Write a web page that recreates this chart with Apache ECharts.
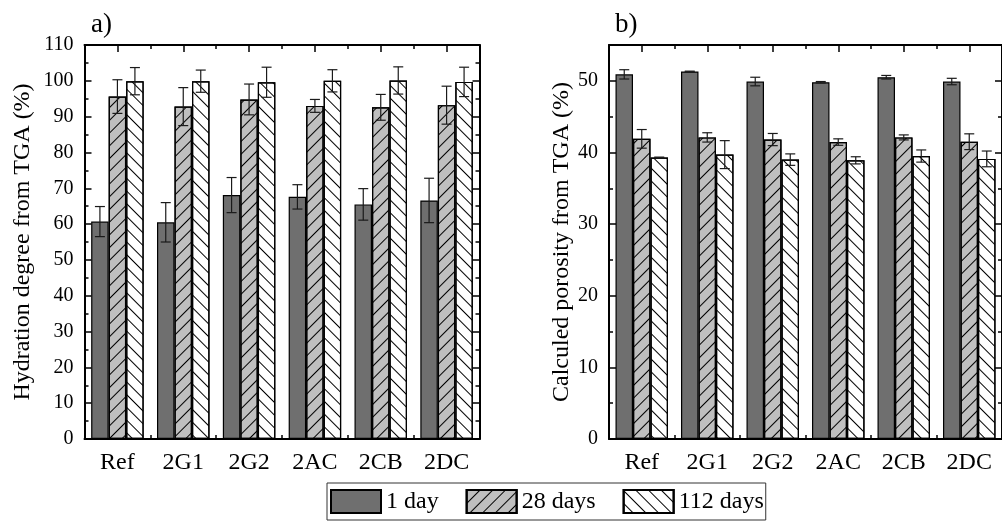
<!DOCTYPE html>
<html>
<head>
<meta charset="utf-8">
<script src="https://cdn.jsdelivr.net/npm/echarts@6/dist/echarts.min.js"></script>
<style>
  html, body { margin: 0; padding: 0; background: #fff; }
  #chart { width: 1002px; height: 522px; }
</style>
</head>
<body>
<div id="chart"></div>
<script>
const categories = ['Ref', '2G1', '2G2', '2AC', '2CB', '2DC'];
const seriesNames = ['1 day', '28 days', '112 days'];

// a) hydration degree (%)
const hyd1 = [60.7, 60.5, 68.1, 67.6, 65.5, 66.6];
const hyd28 = [95.6, 92.8, 94.8, 93.0, 92.6, 93.2];
const hyd112 = [99.9, 99.9, 99.6, 100.0, 100.1, 99.7];
const hydErr1 = [4.2, 5.5, 4.9, 3.4, 4.4, 6.2];
const hydErr28 = [4.7, 5.3, 4.3, 1.8, 3.6, 5.3];
const hydErr112 = [3.8, 3.1, 4.2, 3.1, 3.8, 4.1];

// b) calculated porosity (%)
const por1 = [50.9, 51.3, 49.9, 49.8, 50.5, 49.9];
const por28 = [41.9, 42.1, 41.8, 41.45, 42.1, 41.5];
const por112 = [39.3, 39.7, 39.0, 38.9, 39.5, 39.1];
const porErr1 = [0.65, 0.05, 0.6, 0.1, 0.25, 0.45];
const porErr28 = [1.3, 0.65, 0.85, 0.45, 0.35, 1.1];
const porErr112 = [0.05, 1.95, 0.8, 0.5, 0.85, 1.1];

const FONT = 'Liberation Serif';
const BAR_W = 17.5;

const fills = ['#6f6f6f', '#bfbfbf', '#ffffff'];
const decals = [
    null,
    { symbol: 'rect', symbolSize: 1, color: '#000', dashArrayX: [1, 0], dashArrayY: [1, 8], rotation: -Math.PI / 4 },
    { symbol: 'rect', symbolSize: 1, color: '#000', dashArrayX: [1, 0], dashArrayY: [1, 8], rotation: Math.PI / 4 },
];

function frameAxesX(gridIndex) {
    const base = {
        type: 'category', data: categories, gridIndex,
        axisLabel: { show: false },
        axisLine: { show: true, onZero: false, lineStyle: { color: '#000', width: 2 } },
    };
    return [
        {
            ...base, position: 'bottom',
            axisLabel: { show: true, margin: 12, fontSize: 24, fontFamily: FONT, color: '#000' },
            axisTick: { show: true, inside: true, alignWithLabel: true, length: 8, lineStyle: { color: '#000', width: 1.5 } },
        },
        {
            ...base, position: 'bottom', axisLine: { show: false, onZero: false },
            axisTick: { show: true, inside: true, length: 4, lineStyle: { color: '#000', width: 1.5 } },
        },
        {
            ...base, position: 'top',
            axisTick: { show: true, inside: true, alignWithLabel: true, length: 7, lineStyle: { color: '#000', width: 1.5 } },
        },
        {
            ...base, position: 'top', axisLine: { show: false, onZero: false },
            axisTick: { show: true, inside: true, length: 4, lineStyle: { color: '#000', width: 1.5 } },
        },
    ];
}

function frameAxesY(gridIndex, max, name, nameGap, showMax) {
    const base = {
        type: 'value', gridIndex, min: 0, max, interval: 10,
        splitLine: { show: false },
        axisLine: { show: true, onZero: false, lineStyle: { color: '#000', width: 2 } },
        axisTick: { show: true, inside: true, length: 7, lineStyle: { color: '#000', width: 1.5 } },
        minorTick: { show: true, splitNumber: 2, length: 4, lineStyle: { color: '#000', width: 1.5 } },
    };
    return [
        {
            ...base, position: 'left', name, nameLocation: 'middle', nameGap,
            nameTextStyle: { fontSize: 24, fontFamily: FONT, color: '#000' },
            axisLabel: { show: true, showMaxLabel: showMax, margin: 11, fontSize: 20, fontFamily: FONT, color: '#000' },
        },
        { ...base, position: 'right', axisLabel: { show: false } },
    ];
}

function barSeries(values, s, xAxisIndex, yAxisIndex) {
    const itemStyle = { color: fills[s], borderColor: '#000', borderWidth: 1.2 };
    if (decals[s]) itemStyle.decal = decals[s];
    return {
        type: 'bar', name: seriesNames[s], data: values,
        xAxisIndex, yAxisIndex,
        barWidth: BAR_W, barGap: '0%',
        itemStyle,
        emphasis: { disabled: true },
        z: 2,
    };
}

function errSeries(values, errs, s, xAxisIndex, yAxisIndex) {
    const offset = (s - 1) * BAR_W;
    return {
        type: 'custom', xAxisIndex, yAxisIndex, z: 5, silent: true,
        data: values.map((v, i) => [i, v - errs[i], v + errs[i]]),
        renderItem(params, api) {
            const lo = api.coord([api.value(0), api.value(1)]);
            const hi = api.coord([api.value(0), api.value(2)]);
            const x = lo[0] + offset;
            const cap = 5;
            const style = { stroke: '#1a1a1a', lineWidth: 1.2 };
            return {
                type: 'group',
                children: [
                    { type: 'line', shape: { x1: x, y1: lo[1], x2: x, y2: hi[1] }, style },
                    { type: 'line', shape: { x1: x - cap, y1: hi[1], x2: x + cap, y2: hi[1] }, style },
                    { type: 'line', shape: { x1: x - cap, y1: lo[1], x2: x + cap, y2: lo[1] }, style },
                ],
            };
        },
    };
}

const hydVals = [hyd1, hyd28, hyd112];
const hydErrs = [hydErr1, hydErr28, hydErr112];
const porVals = [por1, por28, por112];
const porErrs = [porErr1, porErr28, porErr112];

const series = [];
hydVals.forEach((v, s) => series.push(barSeries(v, s, 0, 0)));
porVals.forEach((v, s) => series.push(barSeries(v, s, 4, 2)));
hydVals.forEach((v, s) => series.push(errSeries(v, hydErrs[s], s, 0, 0)));
porVals.forEach((v, s) => series.push(errSeries(v, porErrs[s], s, 4, 2)));

const chart = echarts.init(document.getElementById('chart'));
chart.setOption({
    animation: false,
    backgroundColor: '#fff',
    textStyle: { fontFamily: FONT },
    title: [
        { text: 'a)', left: 86, top: 6, textStyle: { fontSize: 27, fontWeight: 'normal', fontFamily: FONT, color: '#000' } },
        { text: 'b)', left: 610, top: 6, textStyle: { fontSize: 27, fontWeight: 'normal', fontFamily: FONT, color: '#000' } },
    ],
    legend: {
        data: seriesNames,
        left: 327, top: 483,
        padding: [6, 2, 6, 3],
        itemGap: 27, itemWidth: 50, itemHeight: 23,
        icon: 'rect',
        borderColor: '#333', borderWidth: 1,
        textStyle: { fontSize: 24, fontFamily: FONT, color: '#000' },
        selectedMode: false,
    },
    grid: [
        { left: 84.5, top: 45, width: 395, height: 394 },
        { left: 609, top: 45, width: 395, height: 394 },
    ],
    xAxis: [...frameAxesX(0), ...frameAxesX(1)],
    yAxis: [
        ...frameAxesY(0, 110, 'Hydration degree from TGA (%)', 50, true),
        ...frameAxesY(1, 55, 'Calculed porosity from TGA (%)', 29, false),
    ],
    series,
});
</script>
</body>
</html>
